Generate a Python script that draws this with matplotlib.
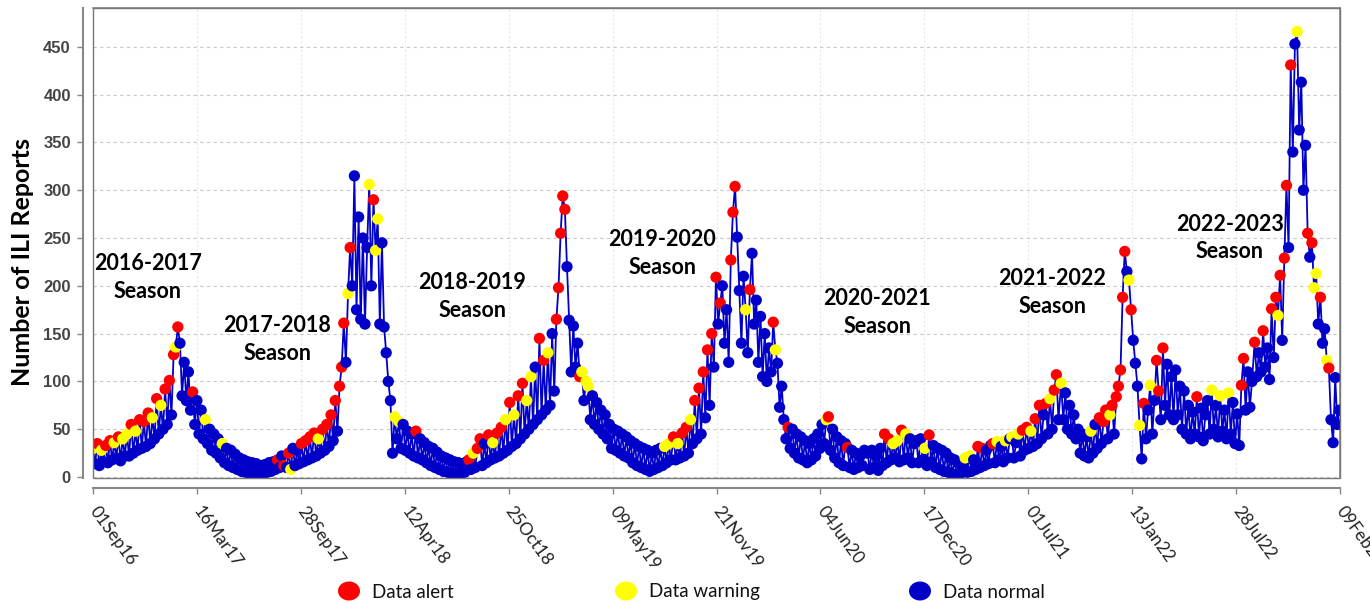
import numpy as np
import matplotlib
matplotlib.use("Agg")
import matplotlib.pyplot as plt
import matplotlib.dates as mdates
from matplotlib.patches import Ellipse, Rectangle
from datetime import datetime

# ---------------- data (one value every 4 days from 1 Sep of each season) ----------------
season_starts = ["2016-09-01", "2017-09-01", "2018-09-01", "2019-09-01",
                 "2020-09-01", "2021-09-01", "2022-09-01"]
step_days = 4

s2016_values = [30, 14, 35, 12, 28, 16, 33, 15,
                38, 18, 36, 20, 42, 17, 40, 22,
                45, 22, 55, 25, 48, 28, 60,
                30, 58, 32, 67, 35, 62, 40, 82,
                45, 75, 50, 92, 55,
                101, 65, 128, 136, 157,
                140, 85, 120, 80, 110,
                70, 89, 55, 80, 45, 70, 40,
                60, 35, 50, 28, 45, 25, 40, 20,
                35, 15, 30, 12, 28, 10, 24,
                8, 20, 6, 18, 5, 16, 4, 15,
                3, 14, 4, 12, 3, 13, 5, 15,
                6, 16, 8, 18, 10, 22, 12]
s2016_status = ("wnanwnan" "anwnanwn" "wnanwna" "nananwna" "nwnan" "anawa" "nnnnn"
                "nannnnn" "wnnnnnnn" "wnnnnnn" "nnnnnnnn" "nnnnnnnn" "nnnannan")

s2017_values = [10, 25, 8, 30, 12, 28, 14, 35,
                16, 38, 18, 42, 20, 46, 22, 40,
                25,
                50, 28, 55, 32, 65, 38, 80, 48, 95, 115,
                161, 120, 192, 240, 200, 315, 175, 272, 165, 250, 160, 240,
                306, 200, 290, 237, 270, 160, 245,
                157, 130, 100, 80, 25, 63, 40, 58, 30, 55, 28, 48, 25, 45, 22,
                48, 20, 40, 18, 36, 15, 32, 12, 30, 10, 26, 8, 22, 6, 20,
                5, 18, 4, 16, 3, 15, 4, 14, 5, 16,
                18, 8, 25, 10, 30]
s2017_status = ("nawnnnna" "nanananw" "n" "ananananaa" "anwannnnnnnn" "wnawwnn"
                "nnnnnwnwnnnnnnn" "annnnnnnnnnnnnn" "nnnnnnnnnn" "anwna")

s2018_values = [40, 12, 35, 15, 44, 18, 36, 20,
                46, 22, 52, 25, 60, 28, 78, 32,
                65, 35, 85, 40, 98, 45, 80,
                50, 105, 55, 115, 60, 145, 65,
                122, 70, 130, 75, 150, 90, 165,
                198, 255, 294, 280, 220,
                164, 110, 158, 115, 140, 105, 110, 80, 100,
                95, 60, 85, 55, 78, 50, 70, 45, 65, 40,
                55, 30, 50, 28, 48, 25, 45, 22, 42, 20,
                38, 15, 35, 12, 32, 10, 30, 8, 28, 6,
                25, 8, 28, 10, 30, 12, 32, 15, 35, 18]
s2018_status = ("annnanwn" "ananwnan" "wnananw" "nwnnnan" "anwnnna" "aaaan" "nnnnnawnw"
                "wnnnnnnnnn" "nnnnnnnnnn" "nnnnnnnnnn" "nnnnnnwnwn")

s2019_values = [42, 18, 35, 20, 46, 22, 52, 25,
                60, 35, 80, 40, 93, 45, 110, 62,
                133, 75, 150, 115, 209, 160, 182,
                200, 140, 175, 120,
                227, 277, 304, 251,
                195, 140, 210, 175, 130, 196, 234, 160, 185, 120,
                168, 105, 150, 100, 135, 110,
                162, 133, 119, 73, 95,
                60, 40, 52, 30, 50, 25, 45,
                20, 42, 18, 38, 15, 35, 18,
                40, 22, 45, 30, 55, 35, 60, 63,
                28, 50, 20, 42, 15, 38, 12, 35,
                31, 10, 28, 8, 25, 10, 22, 12, 28]
s2019_status = ("anwnanan" "wnananan" "ananana" "nnnn" "aaan" "nnnwnannnn" "nnnnnn"
                "awnnn" "nnannnn" "nnnnnnn" "nnnnnnwa" "nnnnnnnn" "annnnnnnn")

s2020_values = [25, 8, 28, 10, 22, 7, 30, 12,
                45, 15, 40, 18, 35, 20, 38, 16,
                49, 18, 45, 20, 40, 15, 35,
                38, 15, 40, 18, 30, 12, 44, 16,
                33, 10, 30, 8, 28, 6, 25,
                5, 20, 3, 18, 2, 15, 4,
                12, 20, 5, 22, 6, 18, 8,
                32, 10, 30, 12, 28, 14, 33,
                35, 15, 37, 18, 32, 16, 38, 20,
                40, 42, 20, 36, 45, 22, 49,
                28, 52, 30, 48, 32, 61, 35, 75,
                40, 65, 77, 45, 82, 50, 91, 107, 60]
s2020_status = ("nnnnnnnn" "ananwnwn" "anwnnnn" "nnnnwnan" "nnnnnnn" "nnnnnnn" "nwnwnnn"
                "anannnn" "anwnnnwn" "nwnnwna" "nanwnana" "nnanwnaan")

s2021_values = [98, 60, 88, 50, 75, 45, 65, 40,
                50, 25, 45, 22, 42, 20, 48, 25,
                55, 30, 62, 35, 58, 70, 40,
                65, 75, 45, 84, 95, 112, 188, 236, 215, 206, 175, 143, 119,
                95, 54, 19, 77, 40, 70, 96, 45, 80, 122, 90, 60, 135, 75, 118, 65,
                105, 60, 112, 65, 95, 50, 90, 45,
                75, 40, 68, 45, 84, 42, 72, 38, 65,
                80, 45, 91, 50, 75, 42, 85, 48,
                70, 40, 88, 45, 78, 35, 66, 33,
                96, 124, 70, 110, 73, 100]
s2021_status = ("wnnnnnnn" "nnnnnnwn" "nnanaan" "wanaaaaanwann" "nwnannwnnaanannn"
                "nnnnnnnn" "nnnnannnn" "nnwnnnwn" "nnwnnnnn" "aannnn")

s2022_values = [141, 105, 130, 110, 153, 115, 135, 102, 176, 125, 188,
                169, 211, 143, 229, 305, 240, 431, 340, 453, 466,
                363, 413, 300, 347, 255, 230, 245, 198, 213, 160,
                188, 140, 155, 122, 114, 60, 36, 104, 55, 70]
s2022_status = "annnannnana" "wanaanannw" "nnnnanawwn" "annwannnnn"

tick_labels = ["01Sep16", "16Mar17", "28Sep17", "12Apr18", "25Oct18", "09May19", "21Nov19",
               "04Jun20", "17Dec20", "01Jul21", "13Jan22", "28Jul22", "09Feb23"]
y_ticks = [0, 50, 100, 150, 200, 250, 300, 350, 400, 450]

season_names = ["2016-2017", "2017-2018", "2018-2019", "2019-2020",
                "2020-2021", "2021-2022", "2022-2023"]
season_label_dates = ["2016-12-13", "2017-08-15", "2018-08-17", "2019-08-11",
                      "2020-09-19", "2021-08-15", "2022-07-16"]
season_label_values = [209, 144, 189, 234, 172, 193, 250]

legend_labels = ["Data alert", "Data warning", "Data normal"]

# ---------------- styles ----------------
RED, YELLOW, BLUE = "#FF0000", "#FFFF00", "#0000C8"
status_colors = {"a": RED, "w": YELLOW, "n": BLUE}

all_values = [s2016_values, s2017_values, s2018_values, s2019_values,
              s2020_values, s2021_values, s2022_values]
all_status = [s2016_status, s2017_status, s2018_status, s2019_status,
              s2020_status, s2021_status, s2022_status]

xs, vals, cols = [], [], []
for start, v, st in zip(season_starts, all_values, all_status):
    st = (st + "n" * len(v))[:len(v)]
    d0 = np.datetime64(start, "D")
    xs.append(mdates.date2num(d0 + np.arange(len(v)) * step_days))
    vals.append(np.asarray(v, float))
    cols.extend(status_colors[c] for c in st)
xs = np.concatenate(xs)
vals = np.concatenate(vals)

W, H = 1370, 603
fig = plt.figure(figsize=(W / 100, H / 100), dpi=100)
L, R, T, B = 93, 1340, 8, 478
ax = fig.add_axes([L / W, (H - B) / H, (R - L) / W, (B - T) / H])

ax.plot(xs, vals, color=BLUE, lw=1.3, zorder=2)
ax.scatter(xs, vals, c=cols, s=66, linewidths=0, zorder=3)

ax.set_ylim(-1, 490.6)
ax.set_xlim(mdates.date2num(np.datetime64("2016-09-01")),
            mdates.date2num(np.datetime64("2023-02-09")))

ax.grid(axis="y", color="#C8C8C8", lw=0.8, ls=(0, (3, 3)))
ax.grid(axis="x", color="#E8E8E8", lw=0.8, ls=(0, (2, 2)))
ax.set_axisbelow(True)

for side in ["left", "bottom"]:
    ax.spines[side].set_position(("outward", 7))
    ax.spines[side].set_color("#888888")
    ax.spines[side].set_linewidth(1.5)
for side in ["top", "right"]:
    ax.spines[side].set_color("#888888")
    ax.spines[side].set_linewidth(1.2)
ax.add_patch(Rectangle((0, 0), 1, 1, transform=ax.transAxes, fill=False,
                       edgecolor="#777777", lw=1.0, clip_on=False, zorder=5))

tick_x = [mdates.date2num(datetime.strptime(t, "%d%b%y")) for t in tick_labels]
ax.set_xticks(tick_x)
ax.set_xticklabels(tick_labels)
ax.set_yticks(y_ticks)
ax.set_yticklabels([str(t) for t in y_ticks])
ax.tick_params(axis="x", length=4, width=1, color="#888888", pad=11,
               labelrotation=-54, labelsize=12.5, labelcolor="#222222")
ax.tick_params(axis="y", length=4, width=1, color="#888888", pad=5,
               labelsize=12, labelcolor="#444444")

ax.set_ylabel("Number of ILI Reports", fontsize=18, family="Lato", fontweight="bold",
              color="black")
ax.yaxis.set_label_coords(-0.047, 0.46)

for name, d, v in zip(season_names, season_label_dates, season_label_values):
    ax.text(mdates.date2num(np.datetime64(d)), v, name + "\nSeason", ha="center",
            va="center", fontsize=15.5, family="Lato", fontweight="bold", color="black",
            linespacing=1.4, zorder=4)

# legend (manual, below the plot)
lax = fig.add_axes([0, 0, 1, 1], facecolor="none")
lax.set_xlim(0, W)
lax.set_ylim(H, 0)
lax.axis("off")
leg_x = [349, 626, 920]
leg_colors = [RED, YELLOW, BLUE]
for x, c, lab in zip(leg_x, leg_colors, legend_labels):
    lax.add_patch(Ellipse((x, 591), 22, 19, facecolor=c, edgecolor="none"))
    lax.text(x + 23, 592, lab, ha="left", va="center", fontsize=13.5, family="Lato",
             color="#111111")

fig.canvas.draw()
for lbl in ax.get_xticklabels():
    lbl.set_rotation(-54)
    lbl.set_rotation_mode("anchor")
    lbl.set_horizontalalignment("left")
    lbl.set_verticalalignment("center")
    lbl.set_family("Lato")
for lbl in ax.get_yticklabels():
    lbl.set_family("Liberation Sans")
    lbl.set_fontweight("bold")

fig.savefig("out.png", dpi=100)
